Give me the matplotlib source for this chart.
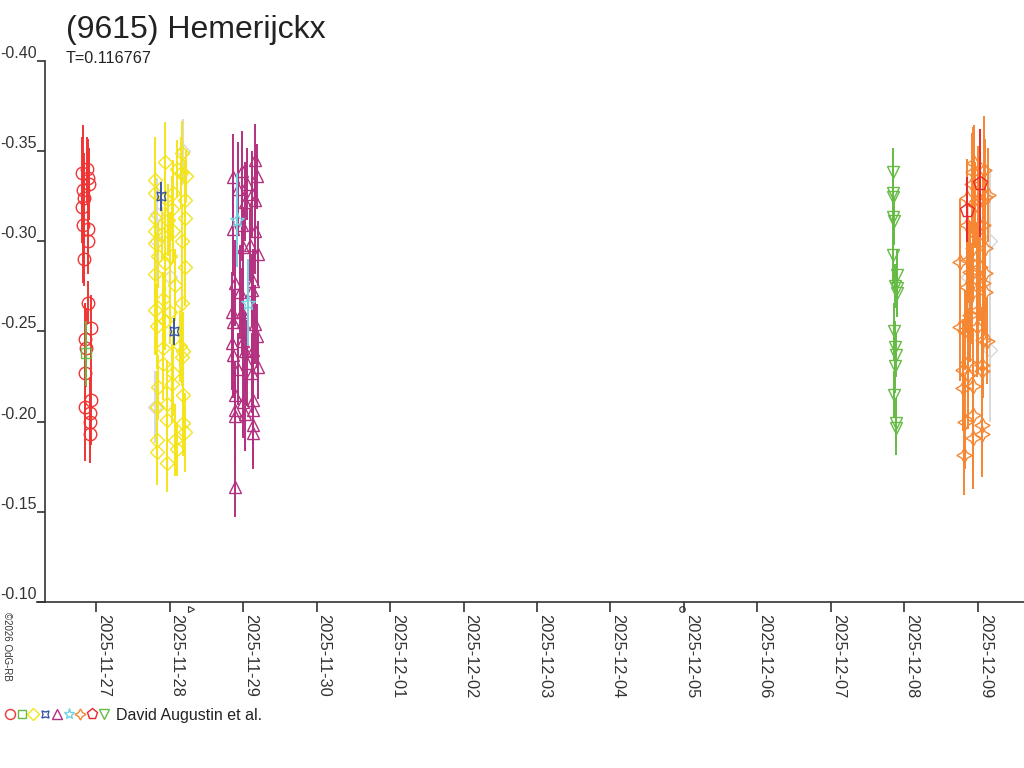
import matplotlib
matplotlib.use("Agg")
import matplotlib.pyplot as plt
import matplotlib.dates as mdates
import matplotlib.transforms as mtrans
from matplotlib.lines import Line2D
import numpy as np

plt.rcParams['font.family'] = ['Liberation Sans', 'DejaVu Sans']

W, H = 1024, 768
JD_OFF = 2461000.0          # times are JD - 2461000
UNIX_JD = 2440587.5         # JD of matplotlib date 0 (1970-01-01)

title = "(9615) Hemerijckx"
period_txt = "T=0.116767"
observer = "David Augustin et al."

# --- data (JD-2461000, relative mag, error) ---
red_t = [6.305, 6.382, 6.395, 6.398, 6.319, 6.314, 6.337, 6.327, 6.393, 6.396, 6.337, 6.395,
         6.428, 6.350, 6.360, 6.350, 6.428, 6.350, 6.418, 6.418, 6.420]
red_m = [-0.338, -0.340, -0.335, -0.332, -0.3285, -0.319, -0.324, -0.309, -0.307, -0.300, -0.290, -0.266,
         -0.252, -0.246, -0.241, -0.227, -0.212, -0.208, -0.205, -0.200, -0.193]
red_e = [0.020, 0.018, 0.022, 0.020, 0.036, 0.020, 0.025, 0.032, 0.020, 0.018, 0.015, 0.012,
         0.018, 0.020, 0.022, 0.020, 0.025, 0.030, 0.020, 0.018, 0.016]

sq_t = [6.360]
sq_m = [-0.238]
sq_e = [0.018]

yel_t = [7.666, 7.439, 7.606, 7.652, 7.724, 7.303, 7.552, 7.300, 7.711, 7.441, 7.530, 7.305, 7.709,
         7.484, 7.302, 7.552, 7.394, 7.304, 7.666, 7.348, 7.507, 7.439, 7.711, 7.301, 7.575, 7.416,
         7.303, 7.507, 7.666, 7.326, 7.439, 7.643, 7.416, 7.688, 7.666, 7.418, 7.552, 7.348, 7.530,
         7.688, 7.326, 7.462, 7.688, 7.462, 7.326, 7.575, 7.598, 7.711, 7.328, 7.462]
yel_m = [-0.349, -0.344, -0.340, -0.338, -0.336, -0.334, -0.327, -0.327, -0.323, -0.324, -0.318, -0.313,
         -0.313, -0.312, -0.306, -0.306, -0.304, -0.299, -0.300, -0.292, -0.292, -0.288, -0.286, -0.282,
         -0.276, -0.268, -0.262, -0.261, -0.266, -0.253, -0.256, -0.242, -0.241, -0.239, -0.236, -0.232,
         -0.227, -0.219, -0.221, -0.215, -0.208, -0.210, -0.199, -0.201, -0.190, -0.190, -0.185, -0.194,
         -0.183, -0.177]
yel_e = [0.018, 0.022, 0.016, 0.020, 0.015, 0.024, 0.018, 0.016, 0.022, 0.020, 0.018, 0.025, 0.016,
         0.020, 0.024, 0.018, 0.015, 0.022, 0.020, 0.018, 0.024, 0.016, 0.022, 0.018, 0.020, 0.015,
         0.025, 0.018, 0.022, 0.024, 0.016, 0.020, 0.018, 0.022, 0.016, 0.020, 0.024, 0.018, 0.022,
         0.016, 0.020, 0.024, 0.018, 0.022, 0.016, 0.020, 0.015, 0.022, 0.018, 0.016]

gray_t = [7.690, 7.330, 7.330, 7.300, 7.500, 18.370, 18.660, 18.660]
gray_m = [-0.350, -0.315, -0.300, -0.208, -0.280, -0.280, -0.300, -0.240]
gray_e = [0.018, 0.020, 0.022, 0.020, 0.024, 0.040, 0.040, 0.040]

blue_t = [7.380, 7.566]
blue_m = [-0.325, -0.250]
blue_e = [0.008, 0.0075]

pur_t = [8.663, 8.359, 8.482, 8.686, 8.437, 8.550, 8.618, 8.663, 8.527, 8.368, 8.482, 8.663, 8.708,
         8.504, 8.595, 8.391, 8.640, 8.459, 8.618, 8.346, 8.482, 8.368, 8.504, 8.663, 8.346, 8.504,
         8.686, 8.368, 8.527, 8.640, 8.708, 8.550, 8.437, 8.618, 8.391, 8.504, 8.640, 8.391, 8.640,
         8.527, 8.391, 8.640, 8.640, 8.391]
pur_m = [-0.345, -0.3355, -0.339, -0.336, -0.329, -0.332, -0.326, -0.323, -0.322, -0.307, -0.309, -0.306,
         -0.293, -0.297, -0.298, -0.277, -0.278, -0.272, -0.273, -0.261, -0.261, -0.2555, -0.2555, -0.254,
         -0.2435, -0.245, -0.2475, -0.237, -0.239, -0.240, -0.2305, -0.2325, -0.229, -0.227, -0.215,
         -0.211, -0.212, -0.2065, -0.2065, -0.204, -0.203, -0.198, -0.1935, -0.164]
pur_e = [0.020, 0.024, 0.022, 0.018, 0.026, 0.020, 0.024, 0.018, 0.022, 0.026, 0.020, 0.024, 0.018,
         0.022, 0.020, 0.024, 0.018, 0.026, 0.020, 0.022, 0.024, 0.018, 0.020, 0.022, 0.026, 0.020,
         0.018, 0.024, 0.022, 0.020, 0.018, 0.024, 0.020, 0.022, 0.018, 0.020, 0.024, 0.022, 0.018,
         0.020, 0.024, 0.022, 0.020, 0.017]

cyan_t = [8.422, 8.572]
cyan_m = [-0.312, -0.266]
cyan_e = [0.026, 0.024]

ora_t = [18.450, 18.586, 18.436, 18.414, 18.346, 18.595, 18.640, 18.504, 18.459, 18.346, 18.572,
         18.504, 18.436, 18.595, 18.255, 18.368, 18.527, 18.391, 18.595, 18.482, 18.346, 18.572,
         18.595, 18.414, 18.504, 18.391, 18.255, 18.323, 18.482, 18.572, 18.618, 18.368, 18.550,
         18.550, 18.300, 18.368, 18.300, 18.436, 18.323, 18.436, 18.550, 18.436, 18.550, 18.313]
ora_m = [-0.3433, -0.3396, -0.3386, -0.3318, -0.3239, -0.3248, -0.3257, -0.3229, -0.3202, -0.3091,
         -0.3091, -0.3030, -0.2962, -0.2962, -0.2887, -0.2897, -0.2860, -0.2832, -0.2823, -0.2786,
         -0.2749, -0.2768, -0.2721, -0.2712, -0.2620, -0.2592, -0.2527, -0.2509, -0.2527, -0.2453,
         -0.2450, -0.2333, -0.2315, -0.2283, -0.2287, -0.2259, -0.2186, -0.2198, -0.2000, -0.2038,
         -0.1982, -0.1909, -0.1931, -0.1816]
ora_e = [0.021, 0.030, 0.025, 0.028, 0.022, 0.032, 0.026, 0.030, 0.024, 0.035, 0.028, 0.022, 0.030,
         0.026, 0.035, 0.024, 0.030, 0.028, 0.022, 0.032, 0.026, 0.030, 0.024, 0.028, 0.035, 0.026,
         0.030, 0.022, 0.028, 0.032, 0.024, 0.030, 0.026, 0.035, 0.028, 0.030, 0.024, 0.032, 0.026,
         0.030, 0.022, 0.028, 0.024, 0.022]

pent_t = [18.527, 18.346]
pent_m = [-0.3322, -0.3174]
pent_e = [0.030, 0.018]

grn_t = [17.347, 17.347, 17.347, 17.339, 17.357, 17.347, 17.394, 17.371, 17.394, 17.394, 17.357,
         17.371, 17.384, 17.371, 17.357, 17.384, 17.384]
grn_m = [-0.3385, -0.327, -0.3245, -0.3137, -0.311, -0.2925, -0.2814, -0.2753, -0.2740, -0.2712,
         -0.250, -0.2416, -0.237, -0.231, -0.215, -0.199, -0.1964]
grn_e = [0.013, 0.014, 0.012, 0.015, 0.013, 0.016, 0.014, 0.012, 0.015, 0.013, 0.016, 0.014, 0.012,
         0.015, 0.013, 0.014, 0.015]

# moon phases: first quarter, full moon
moon_t = [7.790, 14.468]
moon_sym = ['>', 'o']

day_ticks = ['2025-11-27', '2025-12-09']
xlim_t = [5.806, 19.126]
ylim_m = [-0.10, -0.40]
yticks_m = [-0.40, -0.35, -0.30, -0.25, -0.20, -0.15, -0.10]


def to_num(t):
    return np.asarray(t) + JD_OFF - UNIX_JD


# marker, colour, size
series = [
    (gray_t, gray_m, gray_e, 'D', '#d8d8d8', 7.5),
    (red_t, red_m, red_e, 'o', '#f03434', 9),
    (sq_t, sq_m, sq_e, 's', '#66bb44', 7),
    (yel_t, yel_m, yel_e, 'D', '#f4e41c', 7.5),
    (blue_t, blue_m, blue_e, (4, 1, 45), '#3a56a8', 9),
    (pur_t, pur_m, pur_e, '^', '#b3307f', 9),
    (cyan_t, cyan_m, cyan_e, '*', '#74d2e2', 11),
    (ora_t, ora_m, ora_e, (4, 1, 0), '#f58632', 11),
    (pent_t, pent_m, pent_e, 'p', '#e8282a', 10),
    (grn_t, grn_m, grn_e, 'v', '#66bb44', 9),
]

fig = plt.figure(figsize=(W / 100, H / 100), dpi=100)
ax = fig.add_axes([45 / W, 1 - 602 / H, 1 - 45 / W, (602 - 61) / H])

for t, m, e, mk, c, ms in series:
    ax.errorbar(to_num(t), m, yerr=e, fmt='none', ecolor=c, elinewidth=1.4, capsize=0)
    ax.plot(to_num(t), m, ls='none', marker=mk, mfc='none', mec=c, ms=ms, mew=1.0)

ax.set_xlim(to_num(xlim_t))
ax.set_ylim(ylim_m)
ax.set_yticks(yticks_m)
ax.set_yticklabels(['%.2f' % v for v in yticks_m])
for lab in ax.get_yticklabels():
    lab.set_va('bottom')

d0, d1 = np.datetime64(day_ticks[0]), np.datetime64(day_ticks[1])
days = np.arange(d0, d1 + np.timedelta64(1, 'D'), np.timedelta64(1, 'D'))
ax.set_xticks(mdates.date2num(days.astype('datetime64[s]').astype(object)))
ax.xaxis.set_major_formatter(mdates.DateFormatter('%Y-%m-%d'))
for lab in ax.get_xticklabels():
    lab.set_rotation(270)
    lab.set_ha('left')
    lab.set_va('top')

ax.tick_params(axis='y', direction='out', length=6, width=1.2, pad=0, labelsize=11.5,
               colors='#333333')
ax.tick_params(axis='x', direction='out', length=7.5, width=1.2, pad=1.5, labelsize=11.8,
               colors='#333333')
for s in ['top', 'right']:
    ax.spines[s].set_visible(False)
for s in ['left', 'bottom']:
    ax.spines[s].set_color('#333333')
    ax.spines[s].set_linewidth(1.2)
ax.spines['bottom'].set_bounds(to_num(xlim_t)[0] - 8 / 73.5, to_num(xlim_t)[1])

# moon phase symbols just below the axis
moon_tr = mtrans.offset_copy(ax.transData, fig=fig, x=0, y=-5, units='points')
for t, s in zip(moon_t, moon_sym):
    ax.plot(to_num([t]), [ylim_m[0]], marker=s, ms=4, mfc='none', mec='#333333', mew=0.8,
            transform=moon_tr, clip_on=False, ls='none')

fig.text(66 / W, 1 - 38 / H, title, fontsize=23, color='#222222', va='baseline')
fig.text(66 / W, 1 - 63 / H, period_txt, fontsize=11.6, color='#222222', va='baseline')
fig.text(2 / W, 1 - 612 / H, '\u00a92026 OdG-RB', fontsize=7, color='#333333',
         rotation=270, ha='left', va='top')

# legend row: one symbol per series, then the observer names
for i, (t, m, e, mk, c, ms) in enumerate(series[1:]):
    fig.add_artist(Line2D([(10 + i * 11.7) / W], [1 - 714 / H], marker=mk, color=c, mfc='none',
                          mec=c, ms=min(ms * 0.8, 8), mew=1.0, ls='none', transform=fig.transFigure))
fig.text(116 / W, 1 - 720 / H, observer, fontsize=11.5, color='#222222', va='baseline')

fig.savefig('out.png', dpi=100)
